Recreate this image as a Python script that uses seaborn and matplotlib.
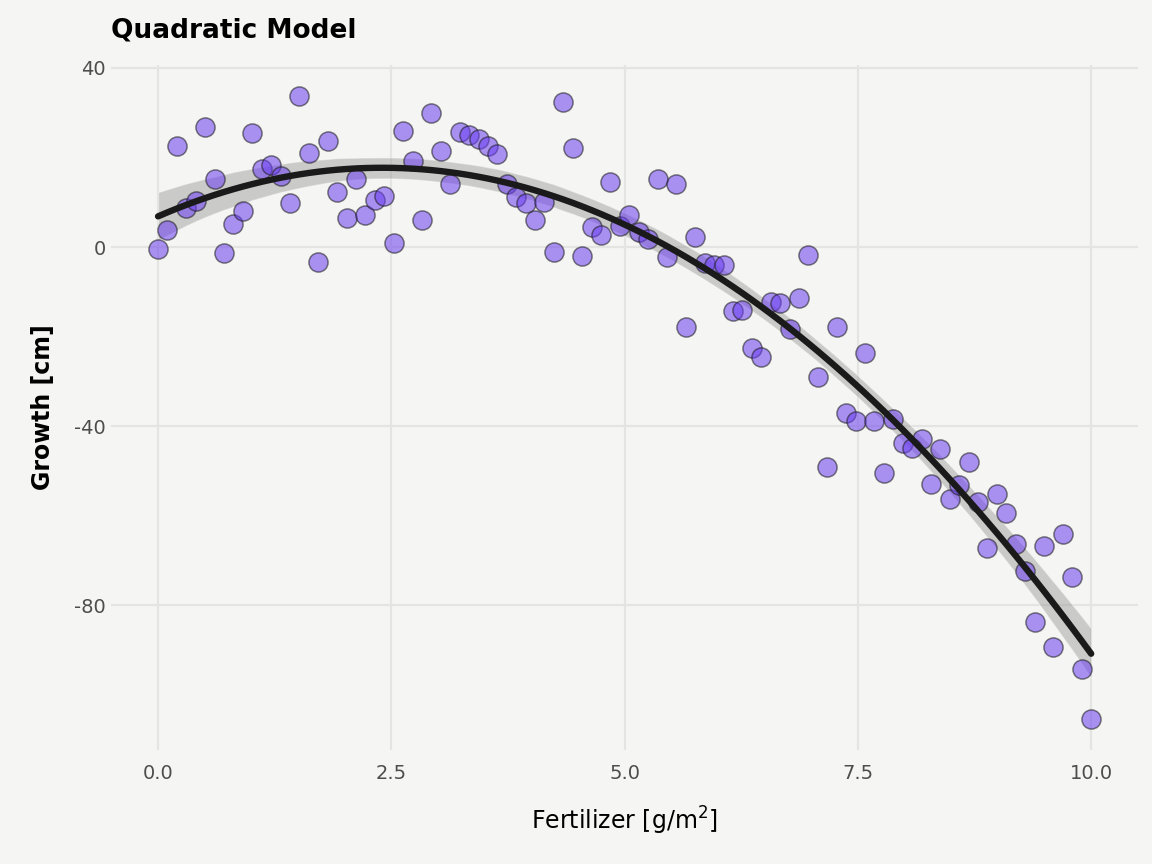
import numpy as np
import pandas as pd
import matplotlib
matplotlib.use("Agg")
import matplotlib.pyplot as plt
import seaborn as sns

# --- data (100 evenly spaced fertilizer levels) ---
fertilizer = np.linspace(0, 10, 100)
growth = [
    -0.5, 3.8, 22.6, 8.7, 10.3, 26.9, 15.2, -1.4, 5.1, 8.1,
    25.5, 17.4, 18.3, 15.9, 9.8, 33.7, 21.1, -3.3, 23.7, 12.2,
    6.6, 15.2, 7.2, 10.5, 11.4, 0.8, 26.0, 19.2, 6.0, 29.9,
    21.5, 14.0, 25.6, 25.0, 24.1, 22.6, 20.7, 14.0, 11.1, 9.8,
    6.0, 10.0, -1.0, 32.5, 22.2, -1.9, 4.5, 2.8, 14.5, 4.8,
    7.2, 3.3, 1.9, 15.1, -2.2, 14.1, -17.8, 2.3, -3.6, -3.9,
    -3.9, -14.3, -14.1, -22.5, -24.5, -12.2, -12.4, -18.3, -11.4, -1.8,
    -29.0, -49.2, -17.9, -37.1, -38.9, -23.7, -38.9, -50.4, -38.3, -43.8,
    -44.9, -42.9, -53.0, -45.1, -56.3, -53.2, -48.0, -57.0, -67.3, -55.2,
    -59.4, -66.4, -72.4, -83.8, -66.8, -89.4, -64.1, -73.7, -94.3, -105.3,
]
x_ticks = [0, 2.5, 5, 7.5, 10]
x_tick_labels = ["0.0", "2.5", "5.0", "7.5", "10.0"]
y_ticks = [40, 0, -40, -80]
y_tick_labels = ["40", "0", "-40", "-80"]

df = pd.DataFrame({"Fertilizer": fertilizer, "Growth": growth})

# --- style ---
bg = "#F5F5F3"
sns.set_theme(style="whitegrid", rc={
    "axes.facecolor": bg,
    "figure.facecolor": bg,
    "grid.color": "#E4E4E2",
    "grid.linewidth": 1.6,
})
plt.rcParams["font.family"] = ["DejaVu Sans"]

fig = plt.figure(figsize=(11.52, 8.64), dpi=100)
ax = fig.add_axes([0.0967, 0.132, 0.891, 0.793])

# points first, fitted curve on top (like geom_point + geom_smooth)
sns.scatterplot(data=df, x="Fertilizer", y="Growth", ax=ax,
                s=190, color="#6A3DF0", alpha=0.55,
                edgecolor="#1a1a1a", linewidth=1.1, zorder=2)
sns.regplot(data=df, x="Fertilizer", y="Growth", ax=ax, order=2,
            scatter=False, ci=95, seed=1, color="#1a1a1a",
            line_kws={"linewidth": 4.6, "zorder": 4})

# darker confidence band
for coll in ax.collections[1:]:
    coll.set_facecolor("#8a8a8a")
    coll.set_alpha(0.4)

ax.set_xlim(-0.5, 10.5)
ax.set_ylim(-112.3, 40.7)
ax.set_xticks(x_ticks)
ax.set_xticklabels(x_tick_labels)
ax.set_yticks(y_ticks)
ax.set_yticklabels(y_tick_labels)
ax.tick_params(axis="both", labelsize=14, labelcolor="#4D4D4D", length=0)
ax.tick_params(axis="x", pad=10)
ax.tick_params(axis="y", pad=4)
for s in ax.spines.values():
    s.set_visible(False)

ax.set_xlabel("Fertilizer [g/m$^2$]", fontsize=17, color="black", labelpad=16)
ax.set_ylabel("Growth [cm]", fontsize=17, fontweight="bold", color="black", labelpad=14)
ax.set_title("Quadratic Model", loc="left", fontsize=19, fontweight="bold",
             color="black", pad=20)

fig.savefig("out.png", dpi=100, facecolor=bg)
